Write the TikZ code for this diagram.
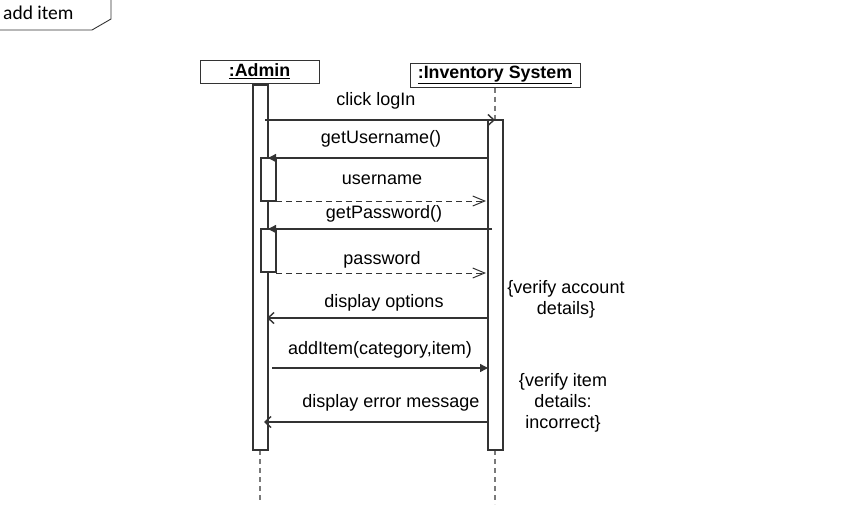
\documentclass[tikz,border=0pt]{standalone}
\usepackage{fontspec}
\setmainfont{Liberation Sans}
\newfontfamily\calib{Carlito}
\usetikzlibrary{arrows.meta}
\definecolor{ln}{HTML}{333333}
\definecolor{life}{HTML}{7A7A7A}
\begin{document}
\begin{tikzpicture}[x=1pt,y=-1pt,
  txt/.style={font=\fontsize{18}{21}\selectfont, text=black, inner sep=0pt},
  objbox/.style={draw=ln, line width=1pt, fill=white, inner sep=0pt, font=\fontsize{17.8}{20}\selectfont\bfseries},
  actbar/.style={draw=ln, line width=1.4pt, fill=white},
  smallact/.style={draw=ln, line width=2pt, fill=white},
  lifeln/.style={draw=life, line width=1.2pt, dash pattern=on 5pt off 4pt},
  syncmsg/.style={draw=ln, line width=1.4pt, -{Triangle[length=8pt,width=8pt]}},
  asyncmsg/.style={draw=ln, line width=1.4pt, -{Straight Barb[length=6pt,width=11pt]}},
  retmsg/.style={draw=ln, line width=1pt, dash pattern=on 6pt off 4pt, -{Straight Barb[length=12pt,width=10pt]}}
]
\useasboundingbox (0,0) rectangle (842,523);
% frame tab
\draw[ln, line width=0.9pt] (0,30) -- (92,30) -- (111,19) -- (111,0);
\node[font=\calib\fontsize{19.5}{22}\selectfont, anchor=west, inner sep=0pt] (tab) at (3,13) {add item};
% object boxes
\node[objbox, minimum width=119pt, minimum height=23pt] (admin) at (259.5,71.5) {\underline{:Admin}};
\node[objbox, minimum width=170pt, minimum height=24pt] (inv) at (495,75) {\underline{:Inventory System}};
% lifelines
\coordinate (invtop) at (495,120);
\coordinate (adminend) at (260,500);
\coordinate (invend) at (495,504);
\draw[lifeln] (inv.south) -- (invtop);
\draw[lifeln] (260,450) -- (adminend);
\draw[lifeln] (495,450) -- (invend);
% activation bars
\node[actbar, minimum width=15pt, minimum height=365pt, inner sep=0pt] (abar) at (260.5,267.5) {};
\node[actbar, minimum width=15pt, minimum height=330pt, inner sep=0pt] (ibar) at (495.5,285) {};
\node[smallact, minimum width=15pt, minimum height=43pt, inner sep=0pt] (act1) at (268,179.5) {};
\node[smallact, minimum width=15pt, minimum height=43pt, inner sep=0pt] (act2) at (268,250.5) {};
% message end points
\coordinate (m1s) at (265,120); \coordinate (m1e) at (495,120);
\coordinate (m2s) at (488,158); \coordinate (m2e) at (268,158);
\coordinate (m3s) at (276,201); \coordinate (m3e) at (486,201);
\coordinate (m4s) at (492,229); \coordinate (m4e) at (268,229);
\coordinate (m5s) at (276,273); \coordinate (m5e) at (486,273);
\coordinate (m6s) at (488,318); \coordinate (m6e) at (267,318);
\coordinate (m7s) at (272,368); \coordinate (m7e) at (488,368);
\coordinate (m8s) at (488,422); \coordinate (m8e) at (264,422);
\draw[asyncmsg] (m1s) -- (m1e);
\draw[syncmsg] (m2s) -- (m2e);
\draw[retmsg] (m3s) -- (m3e);
\draw[syncmsg] (m4s) -- (m4e);
\draw[retmsg] (m5s) -- (m5e);
\draw[asyncmsg] (m6s) -- (m6e);
\draw[syncmsg] (m7s) -- (m7e);
\draw[asyncmsg] (m8s) -- (m8e);
% labels
\node[txt] (l1) at (376,101) {click logIn};
\node[txt] (l2) at (381,139) {getUsername()};
\node[txt] (l3) at (382,180) {username};
\node[txt] (l4) at (384,214) {getPassword()};
\node[txt] (l5) at (382,260) {password};
\node[txt] (l6) at (384,303) {display options};
\node[txt] (l7) at (380,350) {addItem(category,item)};
\node[txt] (l8) at (391,403) {display error message};
% notes
\node[txt, align=center] (n1) at (566,299.5) {\{verify account\\[0pt]details\}};
\node[txt, align=center] (n2) at (563,403) {\{verify item\\[0pt]details:\\[0pt]incorrect\}};
\end{tikzpicture}
\end{document}
